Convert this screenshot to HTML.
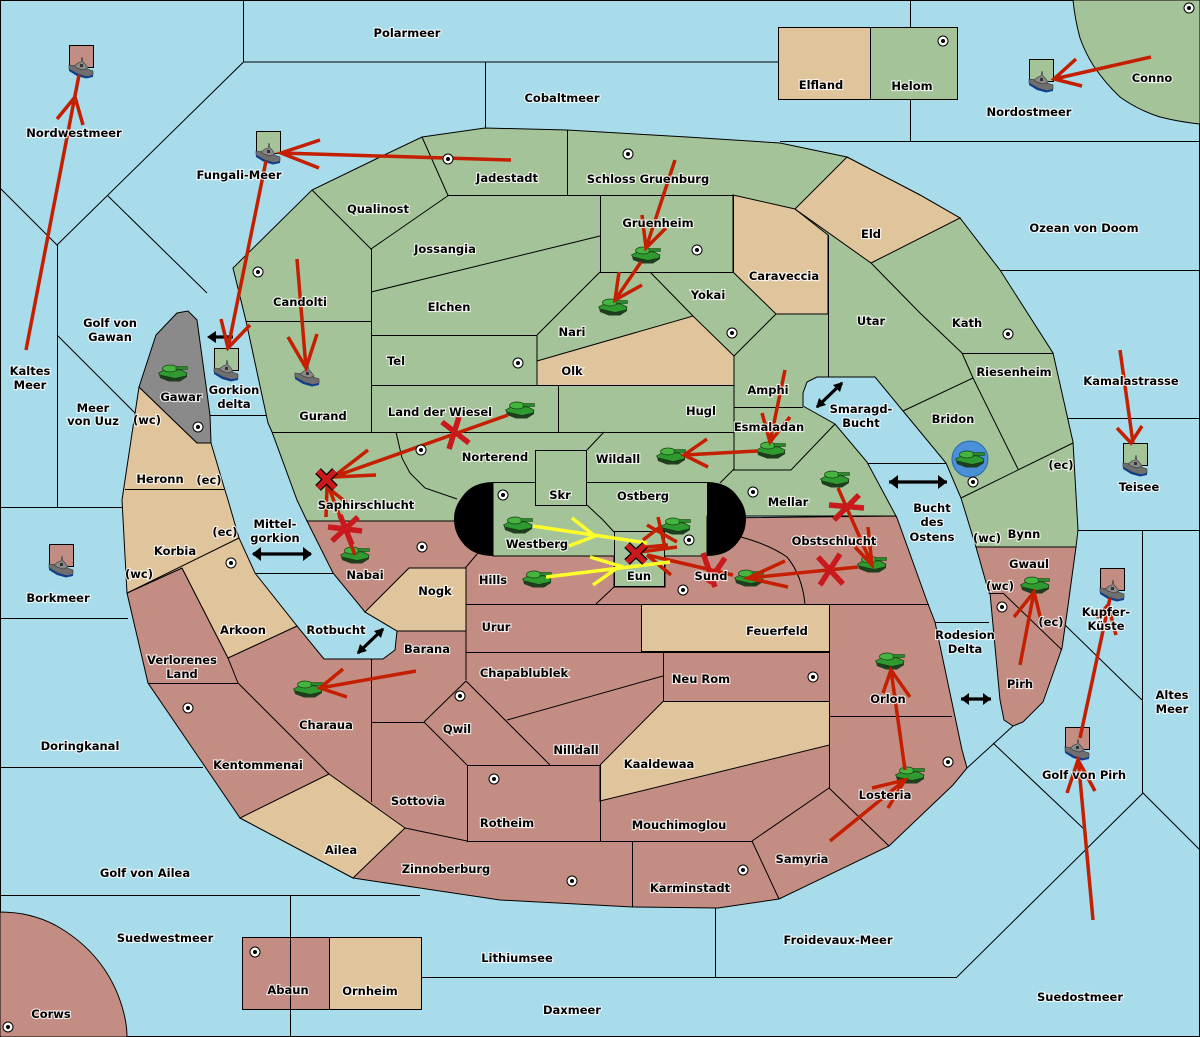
<!DOCTYPE html>
<html><head><meta charset="utf-8"><style>
html,body{margin:0;padding:0;background:#a8dcea}
svg{display:block}
.l{fill:none;stroke:#000;stroke-width:1}
.t text{font-family:"DejaVu Sans",sans-serif;font-size:11.5px;font-weight:700;text-anchor:middle;fill:#000;stroke:#fff;stroke-width:2.2px;stroke-opacity:.8;paint-order:stroke}
.a{fill:none;stroke:#c41f00;stroke-width:3.5}
.x{fill:none;stroke:#c9191c;stroke-width:5.5}
.y{fill:none;stroke:#ffff2a;stroke-width:3.5}
.b{fill:none;stroke:#000;stroke-width:3.2}
</style></head><body>
<svg xmlns="http://www.w3.org/2000/svg" width="1200" height="1037" viewBox="0 0 1200 1037">
<defs>
<g id="tank">
<polygon points="-14,1 -13,5 -4,8.5 7,8.5 14,4 14,1 0,-2" fill="#1f3d1f"/>
<polygon points="-14.500,0 -7,-4 8,-3 14,0 13,3 2,5.500 -13,2" fill="#2f9a2f" stroke="#143c14" stroke-width=".7"/>
<ellipse cx="-3" cy="-4.500" rx="7.500" ry="3.500" fill="#46b53f" stroke="#143c14" stroke-width=".7"/>
<rect x="3" y="-6.500" width="11.500" height="3" fill="#2b8a2b" stroke="#143c14" stroke-width=".5"/>
</g>
<g id="ship">
<polygon points="-12,-2 -4,-1 3,1 12,4 12,8 7,10 -3,7 -12,2" fill="#6f6f6f" stroke="#333" stroke-width=".6"/>
<polygon points="-12,2 -3,7 5,9.500 12,8 12,10 5,11.500 -4,9 -12,4" fill="#103f92"/>
<polygon points="-7,-1 -3,-4 0,-5 1,-10 2,-5 4,-3 7,1 2,3 -4,1" fill="#8a8a8a" stroke="#333" stroke-width=".6"/>
<rect x="-1" y="-3" width="3" height="3" fill="#333"/>
</g>
<g id="sc"><circle r="5" fill="#fff" stroke="#000" stroke-width="1"/><circle r="2" fill="#000"/></g>
</defs>
<rect width="1200" height="1037" fill="#a8dcea"/>
<rect x=".5" y=".5" width="1199" height="1036" class="l"/>

<!-- corner lands -->
<path d="M1073,0 Q1075,20 1080,38 Q1085,52 1093,65 Q1105,83 1120,97 Q1138,110 1160,117 Q1180,122 1200,124 L1200,0Z" fill="#a4c398" stroke="#000"/>
<path d="M0,912 Q30,912 55,925 Q100,950 118,995 Q127,1018 127,1037 L0,1037Z" fill="#c38d83" stroke="#000"/>
<rect x="778.500" y="27.500" width="92" height="72" fill="#e0c49c" stroke="#000"/>
<rect x="870.500" y="27.500" width="87" height="72" fill="#a4c398" stroke="#000"/>
<rect x="242.500" y="937.500" width="87" height="72" fill="#c38d83" stroke="#000"/>
<rect x="329.500" y="937.500" width="92" height="72" fill="#e0c49c" stroke="#000"/>

<!-- sea lines -->
<path class="l" d="M243.500,0V62L57,245L0,188M243.500,62H778M485.500,62V128M910.500,0V27M910.500,99V141M780,141.500H1200M57.500,245V507M108,196L207,293M57,335L135,413M0,507.500H122M0,618.500H128M0,767.500H203M0,895.500H420M290.500,895V1037M421,977.500H957M715.500,908V977M957,977L1143,793L1200,850M993,743L1085,830M1065,625L1142,700M1142.500,530V793M1078,530.500H1200M1068,418.500H1200M1000,270.500H1200M868,463.500H946M255,573.500H333M935,622.500H989M210,415.500H266M967,768L1013,726"/>

<!-- land: red base -->
<polygon points="307,521 333,573 365,612 397,631 395,650 383,659 324,659 297,626 228,658 182,568 127,593 148,683 240,818 353,878 500,900 633,907 718,908 779,899 889,846 953,785 967,768 962,750 935,622 928,604 897,518 896,516 454,521" fill="#c38d83" stroke="#000"/>
<!-- green north -->
<polygon points="307,521 297,500 272,432 268,423 246,321 233,268 312,190 378,158 422,137 485,128 567,130 687,137 780,143 847,157 920,195 960,218 1000,270 1053,353 1073,442 1078,530 1076,547 976,547 961,498 946,463 903,411 875,377 817,377 807,382 803,393 803,406 835,424 867,462 896,516 707,516 707,556 665,556 665,587 614,587 614,556 493,556 493,521 454,521" fill="#a4c398" stroke="#000"/>
<!-- gwaul/pirh -->
<polygon points="976,547 1076,547 1067,613 1062,648 1043,702 1023,722 1013,726 1004,720 1000,700 990,593 989,593" fill="#c38d83" stroke="#000"/>
<!-- tan west + gawar -->
<polygon points="139,387 197,443 211,443 224,487 228,500 239,538 255,573 297,626 228,658 182,568 127,593 122,500" fill="#e0c49c" stroke="#000"/>
<polygon points="139,387 156,335 177,313 188,311 197,320 210,415 211,443 197,443" fill="#8a8a8a" stroke="#000"/>
<!-- tan inside -->
<polygon points="733,195 795,209 828,235 828,314 776,314 733,272" fill="#e0c49c" stroke="#000"/>
<polygon points="795,209 847,157 920,195 960,218 871,263" fill="#e0c49c" stroke="#000"/>
<polygon points="537,361 693,316 734,356 734,385.500 537,385.500" fill="#e0c49c" stroke="#000"/>
<polygon points="409,568 466,568 466,631 397,631 365,612" fill="#e0c49c" stroke="#000"/>
<polygon points="641.500,604.500 829.500,604.500 829.500,651.500 641.500,651.500" fill="#e0c49c" stroke="#000"/>
<polygon points="663,701.500 829.500,701.500 829.500,745 600,801 600,765" fill="#e0c49c" stroke="#000"/>
<polygon points="329,774 405,828 353,878 240,818" fill="#e0c49c" stroke="#000"/>

<!-- land dividers -->
<path class="l" d="M422,137L448,195.500H733.500M567.500,130V195M600.500,195V272M600,272.500H733.500V195M600,272L537,335M371,335.500H537V386M371,385.500H734M558.500,386V432M272,432.500H734M371.500,249V432M312,190L371,249L449,195M371,292L600,236M246,321.500H371M650,272L693,316M776,314L734,356V470H791L835,424M734,407.500H803M720,483L734,469M871,263L920,313L962,353M828.500,235V377M962,353.500H1053M973,378L1018,469M903,411L973,378M962,353L973,378M961,498L1073,443M396,432L402,458L410,473L425,488L457,499M587,505L603,520L614,532M604,432L587,450M587,482.500H707M493,482.500H535"/>
<rect x="535.500" y="450.500" width="51" height="55" fill="#a4c398" stroke="#000"/>
<rect x="614.500" y="531.500" width="50" height="55" fill="#a4c398" stroke="#000"/>
<path class="l" d="M478,553L466,567V680M466,604.500H929M466,652.500H830M641.500,604V652M663.500,652V701M829.500,604V788M830,716.500H952M614,587L596,604M741,537Q770,545 787,557Q802,575 805,604M466,681L550,765M507,720L663,676M424,722L466,681M424,722L467,765M372,722.500H424M371.500,659V802M467.500,765V841M467,765.500H600M600.500,765V841M632.500,841V907M467,841.500H752M752,841L829,788M752,841L779,899M829,788L889,846M405,828L467,841M148,683.500H238M238,683L329,774M228,658L238,683M125,489.500H224M127,593L239,538M1003,593L1062,650M989,593.500H1003"/>

<!-- black caps -->
<path d="M493.500,482 Q472,482 462,497 Q454,507 454,519 Q454,532 462,542 Q472,556 493.500,556Z" fill="#000"/>
<path d="M707,482 Q728,482 738,497 Q746,507 746,519 Q746,532 738,542 Q728,556 707,556Z" fill="#000"/>

<!-- black arrows -->
<path class="b" d="M213,337H233M253,554H311M889,482H947M961,699H991M358,653L383,629M817,407L842,383"/>
<polygon points="207,337 216,331 216,343"/><polygon points="252,554 261,547 261,561"/><polygon points="312,554 303,547 303,561"/><polygon points="889,482 898,475 898,489"/><polygon points="947,482 938,475 938,489"/><polygon points="961,699 969,693 969,705"/><polygon points="991,699 983,693 983,705"/><polygon points="357,654 360,644 367,651"/><polygon points="384,628 381,638 374,631"/><polygon points="816,408 819,398 826,405"/><polygon points="843,382 840,392 833,385"/>

<!-- flags + units -->
<g fill="#c38d83" stroke="#000"><rect x="69.500" y="45.500" width="24" height="22"/><rect x="49.500" y="544.500" width="24" height="22"/><rect x="1100.500" y="568.500" width="24" height="22"/><rect x="1065.500" y="727.500" width="24" height="22"/></g>
<g fill="#a4c398" stroke="#000"><rect x="256.500" y="131.500" width="24" height="22"/><rect x="214.500" y="348.500" width="24" height="22"/><rect x="1029.500" y="59.500" width="24" height="22"/><rect x="1123.500" y="443.500" width="24" height="22"/></g>
<circle cx="970" cy="459" r="18" fill="#4a90d8" stroke="#2b6aa8"/>
<use href="#ship" x="81" y="67"/><use href="#ship" x="268" y="153"/><use href="#ship" x="226" y="370"/><use href="#ship" x="307" y="375"/><use href="#ship" x="1041" y="81"/><use href="#ship" x="1135" y="465"/><use href="#ship" x="61" y="566"/><use href="#ship" x="1112" y="590"/><use href="#ship" x="1077" y="749"/>
<use href="#tank" x="173" y="373"/><use href="#tank" x="520" y="410"/><use href="#tank" x="646" y="255"/><use href="#tank" x="613" y="307"/><use href="#tank" x="671" y="456"/><use href="#tank" x="771" y="450"/><use href="#tank" x="835" y="479"/><use href="#tank" x="872" y="564"/><use href="#tank" x="749" y="578"/><use href="#tank" x="518" y="525"/><use href="#tank" x="676" y="526"/><use href="#tank" x="537" y="579"/><use href="#tank" x="355" y="555"/><use href="#tank" x="970" y="459"/><use href="#tank" x="1035" y="585"/><use href="#tank" x="890" y="661"/><use href="#tank" x="910" y="775"/><use href="#tank" x="308" y="689"/>

<!-- red arrows -->
<path class="a" d="M26,350L79,75M57,119L75,97L83,125"/>
<path class="a" d="M511,160L281,153M320,140L281,153L319,168"/>
<path class="a" d="M266,161L228,348M221,319L228,348L250,325"/>
<path class="a" d="M297,259L306,368M288,337L306,368L317,334"/>
<path class="a" d="M508,415L333,477M368,450L333,477L376,475"/>
<path class="a" d="M355,555L327,483M326,517L327,487L347,503"/>
<path class="a" d="M675,160L646,248M642,215L646,248L666,228"/>
<path class="a" d="M641,262L615,300M619,272L615,300L642,285"/>
<path class="a" d="M757,451L684,455M707,439L684,455L708,467"/>
<path class="a" d="M785,370L770,442M762,413L770,442L790,417"/>
<path class="a" d="M838,488L872,565M868,527L872,565L855,547"/>
<path class="a" d="M858,567L748,578M785,561L748,578L788,587"/>
<path class="a" d="M733,575L647,555M671,575L647,555M647,525L677,542M658,517L665,547M637,548L668,545M640,552L677,547M643,540L660,527"/>
<path class="a" d="M1020,665L1034,592M1014,617L1034,592L1041,620"/>
<path class="a" d="M1120,350L1133,443M1117,428L1131,443L1142,426"/>
<path class="a" d="M1080,738L1110,598M1097,618L1108,605L1116,635"/>
<path class="a" d="M1093,920L1078,757M1067,793L1078,760L1095,791"/>
<path class="a" d="M1151,57L1054,79M1076,59L1054,79L1082,86"/>
<path class="a" d="M905,770L891,670M883,693L891,670L910,697"/>
<path class="a" d="M830,841L905,780M872,788L905,780L888,808"/>
<path class="a" d="M416,671L320,688M343,669L320,688L347,697"/>

<!-- yellow -->
<path class="y" d="M533,526L647,543M572,518L595,536L569,546"/>
<path class="y" d="M546,577L670,562M590,557L620,566L593,585"/>

<!-- X marks -->
<path class="x" d="M442,422L469,443M459,417L449,449"/>
<path class="x" d="M328,527L362,531M332,541L358,517M340,515L352,545"/>
<path class="x" d="M829,505L864,508M834,520L859,495"/>
<path class="x" d="M818,557L843,584M840,554L820,585"/>
<path class="x" d="M703,553L715,587M725,558L708,583"/>
<path class="x" d="M318,471L335,488M335,471L318,488" style="stroke:#000;stroke-width:8"/>
<path class="x" d="M318,471L335,488M335,471L318,488"/>
<path class="x" d="M627,545L645,562M645,545L627,562" style="stroke:#000;stroke-width:8"/>
<path class="x" d="M627,545L645,562M645,545L627,562"/>

<!-- supply centres -->
<use href="#sc" x="448" y="159"/><use href="#sc" x="628" y="154"/><use href="#sc" x="943" y="41"/><use href="#sc" x="258" y="272"/><use href="#sc" x="697" y="250"/><use href="#sc" x="732" y="333"/><use href="#sc" x="518" y="363"/><use href="#sc" x="421" y="450"/><use href="#sc" x="503" y="495"/><use href="#sc" x="689" y="540"/><use href="#sc" x="753" y="492"/><use href="#sc" x="973" y="482"/><use href="#sc" x="198" y="427"/><use href="#sc" x="1008" y="334"/><use href="#sc" x="231" y="563"/><use href="#sc" x="422" y="547"/><use href="#sc" x="683" y="590"/><use href="#sc" x="1002" y="607"/><use href="#sc" x="813" y="677"/><use href="#sc" x="948" y="762"/><use href="#sc" x="460" y="696"/><use href="#sc" x="494" y="779"/><use href="#sc" x="188" y="708"/><use href="#sc" x="572" y="881"/><use href="#sc" x="743" y="870"/><use href="#sc" x="255" y="952"/><use href="#sc" x="8" y="1027"/><use href="#sc" x="1189" y="8"/>

<!-- labels -->
<g class="t">
<text x="407" y="37">Polarmeer</text><text x="562" y="102">Cobaltmeer</text><text x="821" y="89">Elfland</text><text x="912" y="90">Helom</text><text x="1029" y="116">Nordostmeer</text><text x="1152" y="82">Conno</text><text x="74" y="137">Nordwestmeer</text><text x="239" y="179">Fungali-Meer</text><text x="507" y="182">Jadestadt</text><text x="648" y="183">Schloss Gruenburg</text><text x="378" y="213">Qualinost</text><text x="445" y="253">Jossangia</text><text x="658" y="227">Gruenheim</text><text x="871" y="238">Eld</text><text x="1084" y="232">Ozean von Doom</text><text x="784" y="280">Caraveccia</text><text x="449" y="311">Elchen</text><text x="300" y="306">Candolti</text><text x="708" y="299">Yokai</text><text x="572" y="336">Nari</text><text x="110" y="327">Golf von</text><text x="110" y="341">Gawan</text><text x="967" y="327">Kath</text><text x="871" y="325">Utar</text><text x="396" y="365">Tel</text><text x="572" y="375">Olk</text><text x="768" y="394">Amphi</text><text x="1131" y="385">Kamalastrasse</text><text x="1014" y="376">Riesenheim</text><text x="30" y="375">Kaltes</text><text x="30" y="389">Meer</text><text x="93" y="412">Meer</text><text x="93" y="425">von Uuz</text><text x="181" y="401">Gawar</text><text x="234" y="394">Gorkion</text><text x="234" y="408">delta</text><text x="323" y="420">Gurand</text><text x="440" y="416">Land der Wiesel</text><text x="701" y="415">Hugl</text><text x="861" y="413">Smaragd-</text><text x="861" y="427">Bucht</text><text x="953" y="423">Bridon</text><text x="769" y="431">Esmaladan</text><text x="147" y="424">(wc)</text><text x="160" y="483">Heronn</text><text x="209" y="484">(ec)</text><text x="495" y="461">Norterend</text><text x="618" y="463">Wildall</text><text x="1061" y="469">(ec)</text><text x="366" y="509">Saphirschlucht</text><text x="560" y="499">Skr</text><text x="643" y="500">Ostberg</text><text x="788" y="506">Mellar</text><text x="1139" y="491">Teisee</text><text x="175" y="555">Korbia</text><text x="225" y="536">(ec)</text><text x="139" y="578">(wc)</text><text x="275" y="528">Mittel-</text><text x="275" y="542">gorkion</text><text x="932" y="512">Bucht</text><text x="932" y="526">des</text><text x="932" y="541">Ostens</text><text x="1024" y="538">Bynn</text><text x="987" y="542">(wc)</text><text x="1029" y="568">Gwaul</text><text x="834" y="545">Obstschlucht</text><text x="537" y="548">Westberg</text><text x="493" y="584">Hills</text><text x="639" y="580">Eun</text><text x="711" y="580">Sund</text><text x="365" y="579">Nabai</text><text x="435" y="595">Nogk</text><text x="58" y="602">Borkmeer</text><text x="1000" y="590">(wc)</text><text x="1051" y="626">(ec)</text><text x="1106" y="616">Kupfer-</text><text x="1106" y="630">Küste</text><text x="496" y="631">Urur</text><text x="777" y="635">Feuerfeld</text><text x="243" y="634">Arkoon</text><text x="336" y="634">Rotbucht</text><text x="965" y="639">Rodesion</text><text x="965" y="653">Delta</text><text x="427" y="653">Barana</text><text x="182" y="664">Verlorenes</text><text x="182" y="678">Land</text><text x="524" y="677">Chapablublek</text><text x="701" y="683">Neu Rom</text><text x="1020" y="688">Pirh</text><text x="888" y="703">Orlon</text><text x="1172" y="699">Altes</text><text x="1172" y="713">Meer</text><text x="457" y="733">Qwil</text><text x="326" y="729">Charaua</text><text x="576" y="754">Nilldall</text><text x="80" y="750">Doringkanal</text><text x="258" y="769">Kentommenai</text><text x="659" y="768">Kaaldewaa</text><text x="1084" y="779">Golf von Pirh</text><text x="885" y="799">Losteria</text><text x="418" y="805">Sottovia</text><text x="507" y="827">Rotheim</text><text x="679" y="829">Mouchimoglou</text><text x="341" y="854">Ailea</text><text x="802" y="863">Samyria</text><text x="446" y="873">Zinnoberburg</text><text x="145" y="877">Golf von Ailea</text><text x="690" y="892">Karminstadt</text><text x="165" y="942">Suedwestmeer</text><text x="838" y="944">Froidevaux-Meer</text><text x="517" y="962">Lithiumsee</text><text x="288" y="994">Abaun</text><text x="370" y="995">Ornheim</text><text x="572" y="1014">Daxmeer</text><text x="1080" y="1001">Suedostmeer</text><text x="51" y="1018">Corws</text>
</g>
</svg>
</body></html>
